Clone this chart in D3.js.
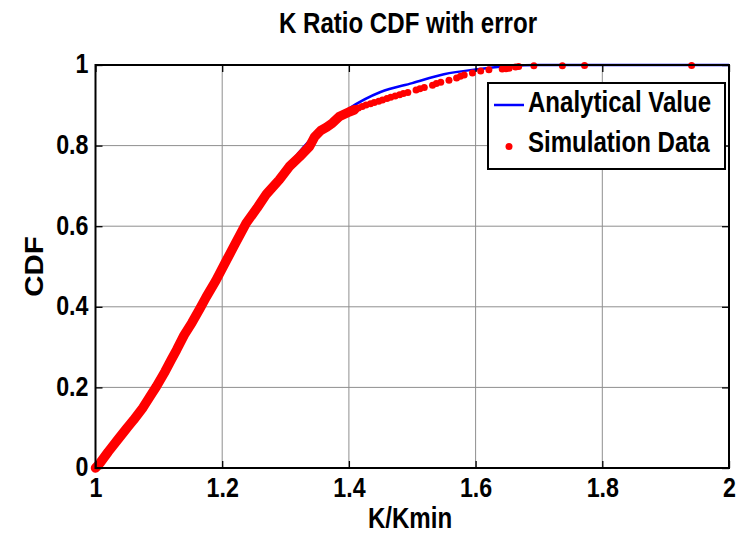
<!DOCTYPE html>
<html lang="en">
<head>
<meta charset="utf-8">
<title>K Ratio CDF with error</title>
<script src="https://cdn.jsdelivr.net/npm/d3@7"></script>
<style>
  body { margin: 0; background: #fff; }
  .narrow { font-family: "Liberation Sans", Arial, sans-serif; font-weight: bold; }
  .grid line { stroke: #8f8f8f; stroke-width: 1; }
</style>
</head>
<body>
<div id="chart"></div>
<script>
// analytical CDF of K/Kmin
var anaK   = [1.00, 1.05, 1.10, 1.15, 1.20, 1.25, 1.30, 1.35, 1.40, 1.45, 1.50, 1.55, 1.60, 1.65, 1.70, 2.00];
var anaCdf = [0.000, 0.100, 0.208, 0.355, 0.497, 0.632, 0.742, 0.832, 0.892, 0.933, 0.955, 0.977, 0.989, 0.997, 1.000, 1.000];

var simK   = [1.000, 1.007, 1.020, 1.035, 1.050, 1.060, 1.075, 1.085, 1.096, 1.110, 1.120, 1.128, 1.140,
              1.152, 1.165, 1.175, 1.190, 1.207, 1.220, 1.238, 1.255, 1.270, 1.290, 1.306, 1.322, 1.338,
              1.346, 1.356, 1.365, 1.374, 1.385, 1.401, 1.409, 1.415, 1.421, 1.427, 1.434, 1.440, 1.447,
              1.453, 1.460, 1.466, 1.473, 1.480, 1.486, 1.493, 1.506, 1.512, 1.519, 1.532, 1.538, 1.545,
              1.558, 1.570, 1.576, 1.582, 1.595, 1.608, 1.621, 1.642, 1.648, 1.653, 1.663, 1.668,
              1.692, 1.737, 1.772, 1.941];
var simCdf = [0.000, 0.012, 0.040, 0.070, 0.100, 0.119, 0.150, 0.175, 0.202, 0.240, 0.270, 0.293, 0.330,
              0.360, 0.396, 0.425, 0.465, 0.516, 0.555, 0.608, 0.645, 0.680, 0.715, 0.748, 0.772, 0.798,
              0.822, 0.838, 0.846, 0.856, 0.872, 0.884, 0.889, 0.893, 0.897, 0.901, 0.904, 0.907, 0.910,
              0.913, 0.917, 0.920, 0.923, 0.926, 0.929, 0.932, 0.938, 0.941, 0.944, 0.950, 0.954, 0.957,
              0.962, 0.968, 0.972, 0.975, 0.980, 0.985, 0.988, 0.990, 0.991, 0.992, 0.995, 0.996,
              0.998, 0.998, 0.999, 0.999];

var xTicks = [1, 1.2, 1.4, 1.6, 1.8, 2];
var yTicks = [0, 0.2, 0.4, 0.6, 0.8, 1];
var legendLabels = ["Analytical Value", "Simulation Data"];

var width = 739, height = 535;
var margin = {top: 65, right: 10, bottom: 67, left: 95.5};
var squeeze = 0.83; // condensed look of the MATLAB font

var svg = d3.select("#chart").append("svg")
    .attr("width", width)
    .attr("height", height);

var x = d3.scaleLinear().domain([1, 2]).range([margin.left, width - margin.right]);
var y = d3.scaleLinear().domain([0, 1]).range([height - margin.bottom, margin.top]);

function condense(sel, f) {
  sel.each(function() {
    var w = this.getComputedTextLength();
    d3.select(this).attr("textLength", w * (f || squeeze)).attr("lengthAdjust", "spacingAndGlyphs");
  });
}

// grid
var grid = svg.append("g").attr("class", "grid");
grid.selectAll(".gx").data(xTicks.slice(1, -1)).enter().append("line")
    .attr("x1", d => x(d)).attr("x2", d => x(d))
    .attr("y1", y(0)).attr("y2", y(1));
grid.selectAll(".gy").data(yTicks.slice(1, -1)).enter().append("line")
    .attr("y1", d => y(d)).attr("y2", d => y(d))
    .attr("x1", x(1)).attr("x2", x(2));

// analytical line
var line = d3.line().x((d, i) => x(anaK[i])).y((d, i) => y(anaCdf[i])).curve(d3.curveMonotoneX);
svg.append("path")
    .datum(anaK)
    .attr("d", line)
    .attr("fill", "none")
    .attr("stroke", "#0000ff")
    .attr("stroke-width", 2.5);

// simulation: dense part merges into a band, the rest are single dots
var sim = simK.map((k, i) => ({k: k, c: simCdf[i]}));
var dense = sim.filter(d => d.k <= 1.41);
svg.append("path")
    .datum(dense)
    .attr("d", d3.line().x(d => x(d.k)).y(d => y(d.c)))
    .attr("fill", "none")
    .attr("stroke", "#ff0000")
    .attr("stroke-width", 9.5)
    .attr("stroke-linejoin", "round")
    .attr("stroke-linecap", "round");
svg.append("g").selectAll("circle")
    .data(sim)
    .enter().append("circle")
    .attr("cx", d => x(d.k))
    .attr("cy", d => y(d.c))
    .attr("r", 3.5)
    .attr("fill", "#ff0000");

// axes box with inward ticks
var ax = svg.append("g").attr("class", "axes");
function tickAxis(axis, tx, ty) {
  var g = ax.append("g").attr("transform", "translate(" + tx + "," + ty + ")").call(axis);
  g.select(".domain").remove();
  g.selectAll(".tick line").attr("stroke", "#000").attr("stroke-width", 1.3);
  return g;
}
var xb = tickAxis(d3.axisBottom(x).tickValues(xTicks).tickSize(-7).tickFormat(d3.format("")), 0, y(0));
tickAxis(d3.axisTop(x).tickValues(xTicks).tickSize(-7).tickFormat(""), 0, y(1));
var yl = tickAxis(d3.axisLeft(y).tickValues(yTicks).tickSize(-7).tickFormat(d3.format("")), x(1), 0);
tickAxis(d3.axisRight(y).tickValues(yTicks).tickSize(-7).tickFormat(""), x(2), 0);

xb.selectAll(".tick text")
    .attr("class", "narrow")
    .attr("font-size", 28)
    .attr("fill", "#000")
    .attr("y", 9)
    .call(condense);
yl.selectAll(".tick text")
    .attr("class", "narrow")
    .attr("font-size", 28)
    .attr("fill", "#000")
    .attr("x", -7)
    .attr("dy", "0.28em")
    .call(condense);

ax.append("rect")
    .attr("x", x(1)).attr("y", y(1))
    .attr("width", x(2) - x(1)).attr("height", y(0) - y(1))
    .attr("fill", "none")
    .attr("stroke", "#000")
    .attr("stroke-width", 2);

// titles
svg.append("text")
    .attr("class", "narrow")
    .attr("x", 408).attr("y", 33)
    .attr("text-anchor", "middle")
    .attr("font-size", 29)
    .text("K Ratio CDF with error")
    .call(condense);
svg.append("text")
    .attr("class", "narrow")
    .attr("x", 410).attr("y", 528)
    .attr("text-anchor", "middle")
    .attr("font-size", 29)
    .text("K/Kmin")
    .call(condense);
svg.append("text")
    .attr("class", "narrow")
    .attr("transform", "translate(43," + y(0.5) + ") rotate(-90)")
    .attr("text-anchor", "middle")
    .attr("font-size", 25)
    .text("CDF")
    .call(condense, 1.18);

// legend
var lg = svg.append("g").attr("transform", "translate(488,83)");
lg.append("rect")
    .attr("width", 237).attr("height", 86)
    .attr("fill", "#fff")
    .attr("stroke", "#000")
    .attr("stroke-width", 2);
lg.append("line")
    .attr("x1", 6).attr("x2", 36).attr("y1", 22).attr("y2", 22)
    .attr("stroke", "#0000ff").attr("stroke-width", 2.5);
lg.append("circle")
    .attr("cx", 21).attr("cy", 63.5).attr("r", 3.5)
    .attr("fill", "#ff0000");
// legend labels squeezed with a transform so their boxes stay honest
lg.selectAll(".lt").data(legendLabels).enter().append("text")
    .attr("class", "narrow")
    .attr("transform", (d, i) => "translate(40," + (29 + i * 40) + ") scale(" + squeeze + ",1)")
    .attr("font-size", 29)
    .text(d => d);
</script>
</body>
</html>
